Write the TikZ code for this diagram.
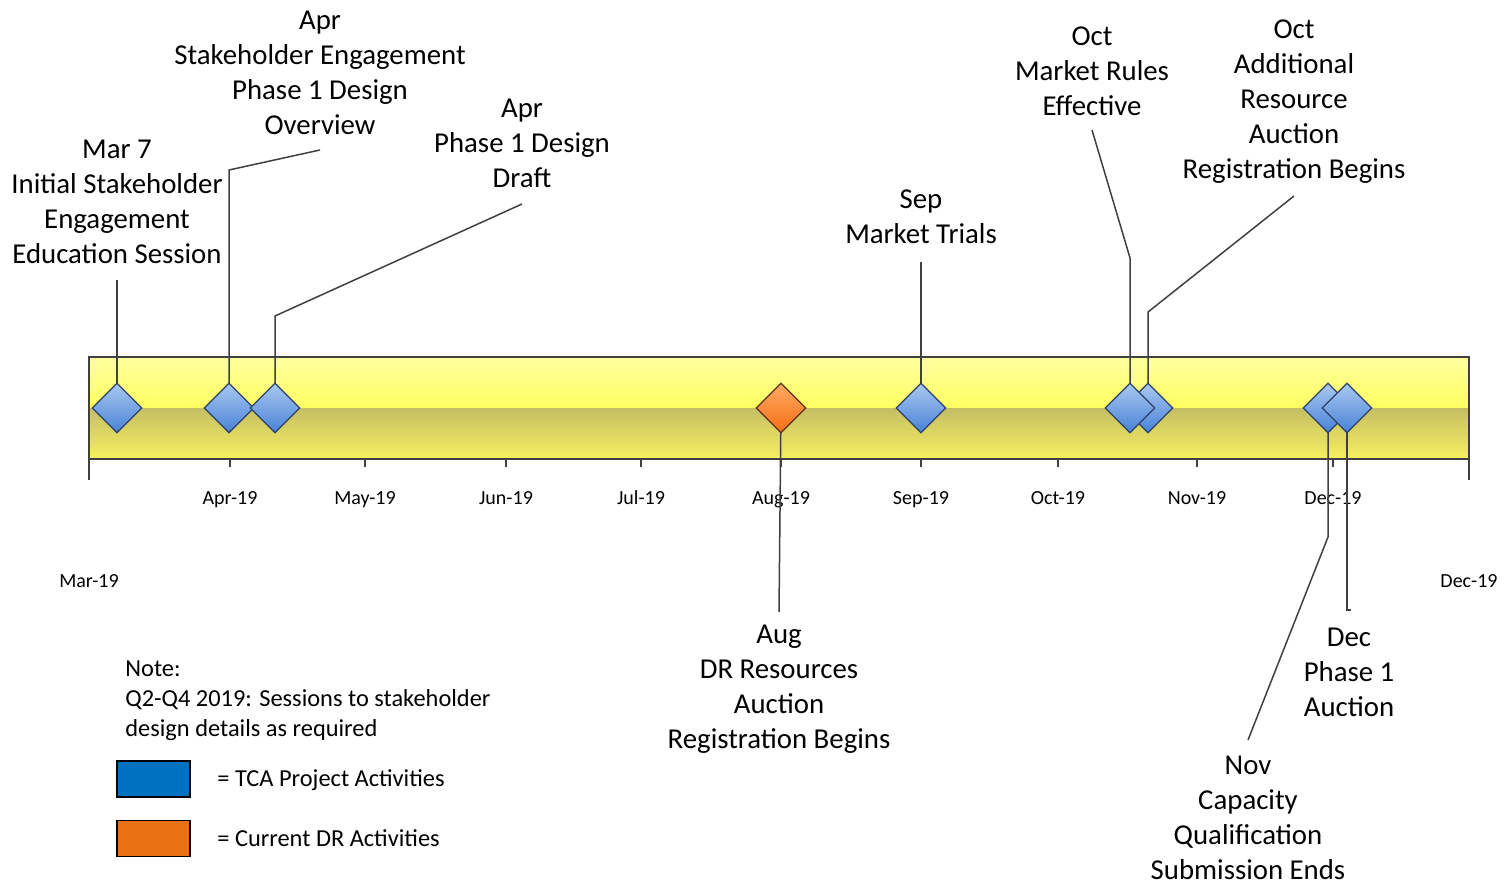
\documentclass[tikz,border=0pt]{standalone}
\usepackage{fontspec}
\setmainfont{Carlito}
\usetikzlibrary{shapes.geometric}
\definecolor{lineC}{RGB}{64,64,64}
\definecolor{yTop}{RGB}{255,255,160}
\definecolor{yMid}{RGB}{255,255,96}
\definecolor{oTop}{RGB}{196,190,100}
\definecolor{oBot}{RGB}{246,240,96}
\definecolor{bLight}{RGB}{170,200,240}
\definecolor{bDark}{RGB}{70,130,215}
\definecolor{bEdge}{RGB}{45,65,105}
\definecolor{oLight}{RGB}{255,170,100}
\definecolor{oDark}{RGB}{245,110,20}
\definecolor{oEdge}{RGB}{90,50,30}
\definecolor{legBlue}{RGB}{0,112,192}
\definecolor{legOrange}{RGB}{232,113,20}
\tikzset{
  x=0.5pt, y=-0.5pt,
  conn/.style={draw=lineC, line width=0.75pt},
  msbase/.style={diamond, minimum width=25pt, minimum height=25pt, inner sep=0pt, line width=0.6pt, shading angle=45},
  msblue/.style={msbase, draw=bEdge, top color=bLight, bottom color=bDark},
  msorange/.style={msbase, draw=oEdge, top color=oLight, bottom color=oDark},
  lbl/.style={align=center, font=\fontsize{14.4}{17.5}\selectfont, inner sep=0pt},
  ticklbl/.style={font=\fontsize{10}{12}\selectfont, inner sep=0pt, anchor=base},
  legtxt/.style={font=\fontsize{12.2}{15}\selectfont, inner sep=0pt, anchor=west},
}
\begin{document}
\begin{tikzpicture}
\useasboundingbox (0,0) rectangle (1508,887);
% bar
\shade[top color=yTop, bottom color=yMid] (89,357) rectangle (1469,408);
\shade[top color=oTop, bottom color=oBot] (89,408) rectangle (1469,459);
\draw[draw=lineC, line width=0.75pt] (89,357) rectangle (1469,459);
\draw[draw=lineC, line width=0.75pt] (89,357) -- (89,480) (1469,357) -- (1469,480);
\foreach \tx/\tl in {230/Apr-19,365/May-19,506/Jun-19,641/Jul-19,781/Aug-19,921/Sep-19,1058/Oct-19,1197/Nov-19,1333/Dec-19}{
  \draw[draw=lineC, line width=0.75pt] (\tx,459) -- (\tx,467);
  \node[ticklbl] (t\tx) at (\tx,504) {\tl};
}
\node[ticklbl] (tmar) at (89,587) {Mar-19};
\node[ticklbl] (tdec) at (1469,587) {Dec-19};
% diamond positions
\coordinate (p1) at (117,408);
\coordinate (p2) at (229,408);
\coordinate (p3) at (275,408);
\coordinate (p4) at (781,408);
\coordinate (p5) at (921,408);
\coordinate (p6) at (1130,408);
\coordinate (p7) at (1148,408);
\coordinate (p8) at (1328,408);
\coordinate (p9) at (1347,408);
% labels
\node[lbl] (l1) at (117,202) {Mar 7\\Initial Stakeholder\\Engagement\\Education Session};
\node[lbl] (l2) at (320,73) {Apr\\Stakeholder Engagement\\Phase 1 Design\\Overview};
\node[lbl] (l3) at (522,143) {Apr\\Phase 1 Design\\Draft};
\node[lbl] (l4) at (779,689) {Aug\\DR Resources\\Auction\\Registration Begins};
\node[lbl] (l5) at (921,217) {Sep\\Market Trials};
\node[lbl] (l6) at (1092,71) {Oct\\Market Rules\\Effective};
\node[lbl] (l7) at (1294,102) {Oct\\Additional\\Resource\\Auction\\Registration Begins};
\node[lbl] (l8) at (1248,818) {Nov\\Capacity\\Qualification\\Submission Ends};
\node[lbl] (l9) at (1349,672) {Dec\\Phase 1\\Auction};
% connector bend points
\coordinate (e1) at (117,280);
\coordinate (b2) at (229,170); \coordinate (e2) at (320,150);
\coordinate (b3) at (275,316); \coordinate (e3) at (522,204);
\coordinate (e4) at (779,612);
\coordinate (e5) at (921,262);
\coordinate (b6) at (1130,258); \coordinate (e6) at (1092,130);
\coordinate (b7) at (1148,312); \coordinate (e7) at (1294,196);
\coordinate (b8) at (1328,537); \coordinate (e8) at (1248,740);
\coordinate (b9) at (1347,610); \coordinate (e9) at (1351,610);
% connectors
\draw[conn] (p1) -- (e1);
\draw[conn] (p2) -- (b2) -- (e2);
\draw[conn] (p3) -- (b3) -- (e3);
\draw[conn] (p4) -- (e4);
\draw[conn] (p5) -- (e5);
\draw[conn] (p6) -- (b6) -- (e6);
\draw[conn] (p7) -- (b7) -- (e7);
\draw[conn] (p8) -- (b8) -- (e8);
\draw[conn] (p9) -- (b9) -- (e9);
% diamonds
\node[msblue] (d1) at (p1) {};
\node[msblue] (d2) at (p2) {};
\node[msblue] (d3) at (p3) {};
\node[msorange] (d4) at (p4) {};
\node[msblue] (d5) at (p5) {};
\node[msblue] (d7) at (p7) {};
\node[msblue] (d6) at (p6) {};
\node[msblue] (d8) at (p8) {};
\node[msblue] (d9) at (p9) {};
% note
\node[legtxt, align=left, anchor=north west] (note) at (125,660) {Note:\\Q2-Q4 2019: Sessions to stakeholder\\design details as required};
% legend
\node[draw=black, line width=0.6pt, fill=legBlue, minimum width=36.5pt, minimum height=18pt, inner sep=0pt] (kb) at (153.5,779) {};
\node[draw=black, line width=0.6pt, fill=legOrange, minimum width=36.5pt, minimum height=18pt, inner sep=0pt] (ko) at (153.5,838.5) {};
\node[legtxt] (kbt) at (217,780) {= TCA Project Activities};
\node[legtxt] (kot) at (217,838) {= Current DR Activities};
\end{tikzpicture}
\end{document}
